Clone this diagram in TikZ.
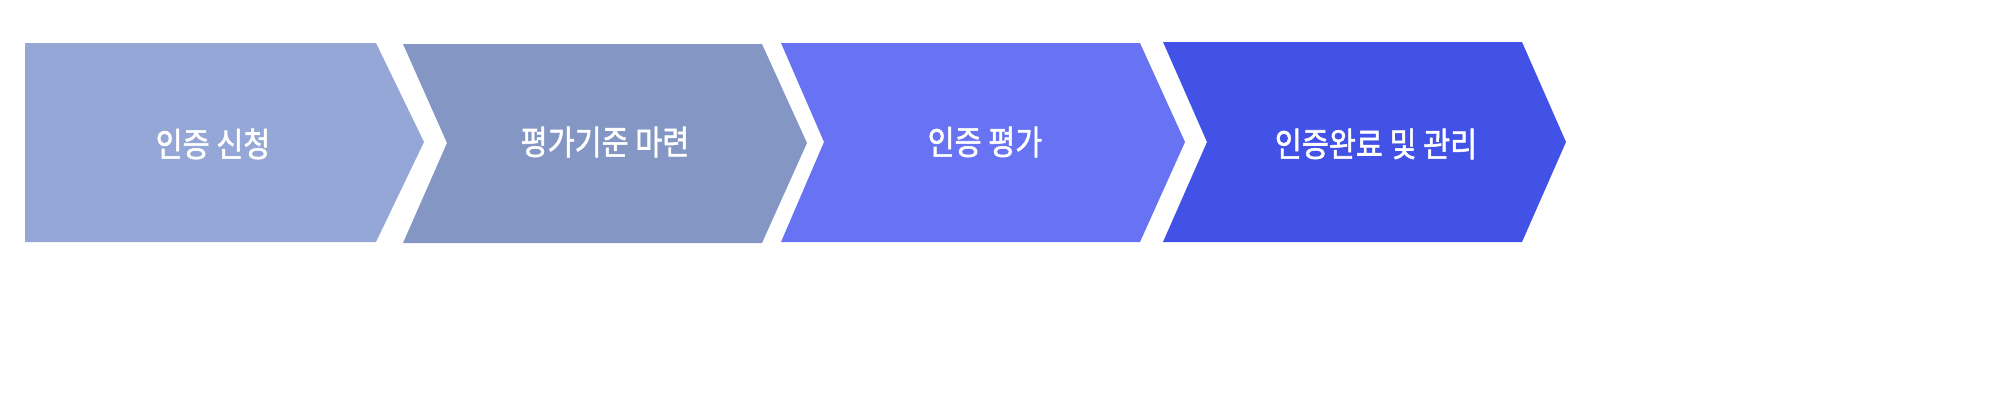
\documentclass[tikz,border=0pt]{standalone}
\usepackage{fontspec}
\usepackage{xcolor}
\usepackage{graphicx}
\usepackage{tikz}
\usetikzlibrary{calc,positioning}
\newfontfamily\kr{Noto Sans CJK KR}[FakeBold=1.6]
\definecolor{stepa}{HTML}{94A7D6}
\definecolor{stepb}{HTML}{8497C4}
\definecolor{stepc}{HTML}{6873F4}
\definecolor{stepd}{HTML}{4352E6}
\newcommand{\steptext}[1]{\scalebox{0.87}[1]{#1}}

\begin{document}
\begin{tikzpicture}[x=0.01cm,y=-0.01cm,lbl/.style={text=white,inner sep=0pt,font=\kr\fontsize{9.6}{11}\selectfont}]
\useasboundingbox (0,0) rectangle (2000,400);

  \fill[stepa] (25,43) -- (376,43) -- (424,142) -- (376,242) -- (25,242) -- cycle;
  \fill[stepb] (403,44) -- (762,44) -- (807,143) -- (762,243) -- (403,243) -- (447,143) -- cycle;
  \fill[stepc] (781,43) -- (1140,43) -- (1185,142) -- (1140,242) -- (781,242) -- (824,142) -- cycle;
  \fill[stepd] (1163,42) -- (1522,42) -- (1566,142) -- (1522,242) -- (1163,242) -- (1207,142) -- cycle;

  \node[lbl] (s1) at (213,144) {\steptext{인증 신청}};
  \node[lbl] (s2) at (605,142) {\steptext{평가기준 마련}};
  \node[lbl] (s3) at (985,142) {\steptext{인증 평가}};
  \node[lbl] (s4) at (1376,144) {\steptext{인증완료 및 관리}};
\end{tikzpicture}
\end{document}
